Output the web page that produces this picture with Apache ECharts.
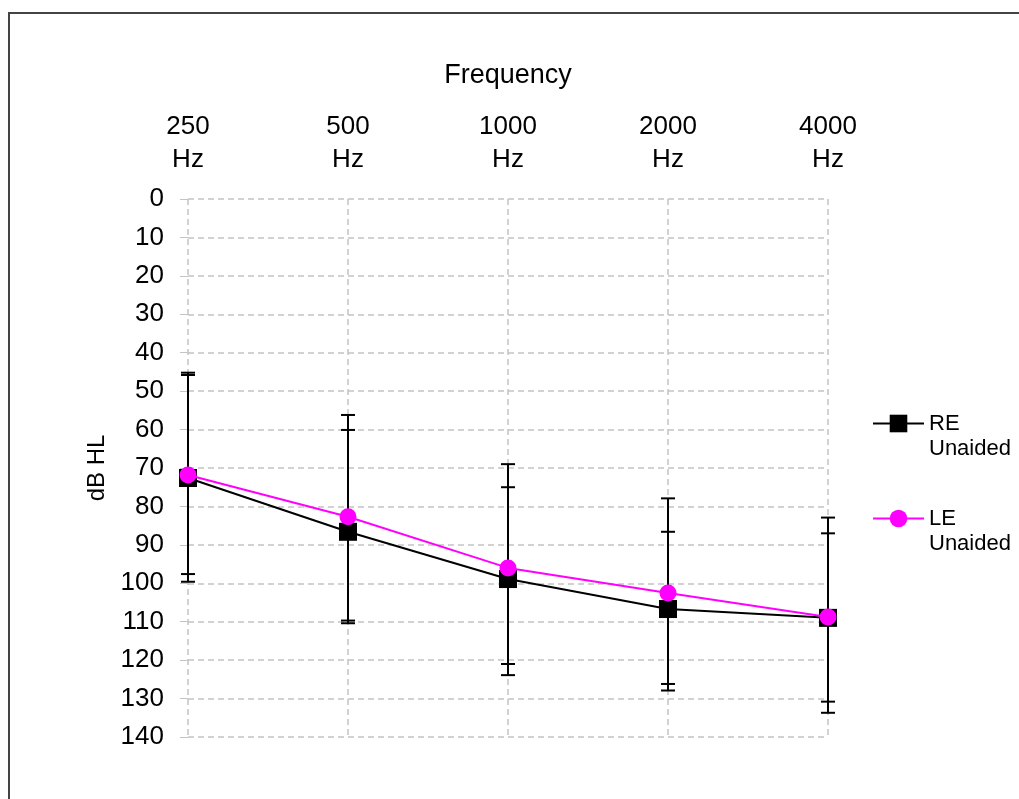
<!DOCTYPE html>
<html>
<head>
<meta charset="utf-8">
<title>Frequency / dB HL</title>
<script src="https://cdn.jsdelivr.net/npm/echarts@6/dist/echarts.min.js"></script>
<style>
  html, body { margin: 0; padding: 0; background: #fff; }
  #main { width: 1019px; height: 799px; position: relative; }
  .frame {
    position: absolute;
    left: 8px;
    top: 12px;
    width: 1100px;
    height: 900px;
    border-left: 2px solid #444;
    border-top: 2px solid #444;
    pointer-events: none;
  }
</style>
</head>
<body>
<div id="main"></div>
<div class="frame"></div>
<script>
// data
const categories = ["250\nHz", "500\nHz", "1000\nHz", "2000\nHz", "4000\nHz"];
const reValues = [72.6, 86.6, 98.9, 106.7, 109.0];
const leValues = [71.8, 82.7, 96.0, 102.5, 108.8];
// error bar ends (top / bottom of each bar)
const reErrLow = [45.2, 60.1, 69.0, 77.9, 82.9];
const reErrHigh = [99.6, 110.4, 123.9, 127.9, 133.7];
const leErrLow = [45.8, 56.2, 75.0, 86.6, 87.0];
const leErrHigh = [97.6, 109.7, 121.0, 126.2, 130.8];
const yTicks = [0, 140, 10]; // min, max, interval

const font = "Liberation Sans";
const gridColor = "#c4c4c4";

function errData(lows, highs) {
  return lows.map((lo, i) => [i, lo, highs[i]]);
}

// draw one error bar: vertical line + two caps
function renderErr(params, api) {
  const i = api.value(0);
  const top = api.coord([i, api.value(1)]);
  const bot = api.coord([i, api.value(2)]);
  const half = 7;
  const style = { stroke: "#000", lineWidth: 2 };
  return {
    type: "group",
    children: [
      { type: "line", shape: { x1: top[0], y1: top[1], x2: bot[0], y2: bot[1] }, style: style },
      { type: "line", shape: { x1: top[0] - half, y1: top[1], x2: top[0] + half, y2: top[1] }, style: style },
      { type: "line", shape: { x1: bot[0] - half, y1: bot[1], x2: bot[0] + half, y2: bot[1] }, style: style },
    ],
  };
}

const chart = echarts.init(document.getElementById("main"));
const option = {
  animation: false,
  textStyle: { fontFamily: font },
  grid: { left: 188, right: 191, top: 199, bottom: 62 },
  legend: {
    orient: "vertical",
    left: 872,
    top: 386,
    padding: 0,
    itemWidth: 51,
    itemHeight: 22,
    itemGap: 20,
    data: ["RE", "LE"],
    // blank first line keeps the icon level with the first word
    formatter: (name) => " \n" + name + "\nUnaided",
    textStyle: {
      fontFamily: font,
      fontSize: 22,
      color: "#000",
      lineHeight: 25,
    },
  },
  xAxis: {
    type: "category",
    position: "top",
    data: categories,
    boundaryGap: false,
    name: "Frequency",
    nameLocation: "middle",
    nameGap: 110,
    nameTextStyle: { fontFamily: font, fontSize: 27, color: "#000" },
    axisLine: { show: false },
    axisTick: { show: false },
    axisLabel: {
      fontFamily: font,
      fontSize: 26,
      color: "#000",
      lineHeight: 33,
      margin: 23,
    },
    splitLine: { show: true, lineStyle: { color: gridColor, type: [6, 4], width: 1.5 } },
  },
  yAxis: {
    type: "value",
    inverse: true,
    min: yTicks[0],
    max: yTicks[1],
    interval: yTicks[2],
    name: "dB HL",
    nameLocation: "middle",
    nameGap: 73,
    nameRotate: 90,
    nameTextStyle: { fontFamily: font, fontSize: 24, color: "#000" },
    axisLine: { show: false },
    axisTick: { show: true, length: 8, lineStyle: { color: gridColor } },
    axisLabel: { fontFamily: font, fontSize: 26, color: "#000", margin: 24 },
    splitLine: { show: true, lineStyle: { color: gridColor, type: [6, 4], width: 1.5 } },
  },
  series: [
    { name: "RE err", type: "custom", renderItem: renderErr, data: errData(reErrLow, reErrHigh), z: 1, silent: true },
    { name: "LE err", type: "custom", renderItem: renderErr, data: errData(leErrLow, leErrHigh), z: 1, silent: true },
    {
      name: "RE",
      type: "line",
      data: reValues,
      symbol: "rect",
      symbolSize: 18,
      color: "#000",
      lineStyle: { color: "#000", width: 2 },
      itemStyle: { color: "#000" },
      z: 3,
    },
    {
      name: "LE",
      type: "line",
      data: leValues,
      symbol: "circle",
      symbolSize: 17,
      color: "#ff00ff",
      lineStyle: { color: "#ff00ff", width: 2 },
      itemStyle: { color: "#ff00ff" },
      z: 4,
    },
  ],
};
chart.setOption(option);
</script>
</body>
</html>
